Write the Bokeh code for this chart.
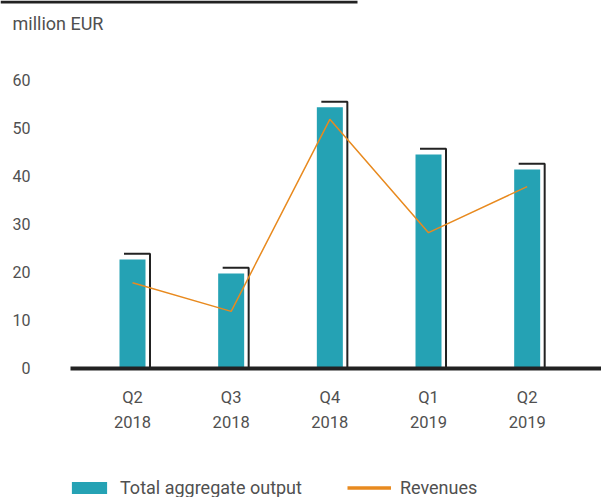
from bokeh.plotting import figure
from bokeh.models import Range1d, Legend, LegendItem, ColumnDataSource
from bokeh.core.properties import value
from bokeh.embed import file_html
from bokeh.resources import INLINE

# ---- data ----
quarter_names = ["Q2", "Q3", "Q4", "Q1", "Q2"]
quarter_years = ["2018", "2018", "2018", "2019", "2019"]
output = [22.6, 19.7, 54.3, 44.5, 41.35]
revenues = [17.75, 11.8, 51.8, 28.2, 37.8]
y_ticks = [0, 10, 20, 30, 40, 50, 60]
unit_label = "million EUR"
series_names = ["Total aggregate output", "Revenues"]

FONT = "Roboto"
TEAL = "#25A2B4"
ORANGE = "#E88A1F"
GREY = "#505050"
DARK = "#222222"

W, H = 601, 497
# layout: value 0 sits at y-pixel 367.5, 4.8 px per unit; categories 98.67 px apart from x-pixel 132
Y0_PX, PX_PER_UNIT = 367.5, 4.8
X0_PX, PX_PER_CAT = 132.0, 98.67


def px2x(px):
    return (px - X0_PX) / PX_PER_CAT


def py2y(py):
    return (Y0_PX - py) / PX_PER_UNIT


xs = list(range(len(quarter_names)))
bar_w = 26 / PX_PER_CAT
off_x = 4.5 / PX_PER_CAT
off_y = 5.7 / PX_PER_UNIT

p = figure(width=W, height=H,
           x_range=Range1d(px2x(0), px2x(W)), y_range=Range1d(py2y(H), py2y(0)),
           output_backend="svg", toolbar_location=None,
           x_axis_location=None, y_axis_location=None,
           min_border=0)
p.min_border_left = p.min_border_right = p.min_border_top = p.min_border_bottom = 0
p.outline_line_color = None
p.xgrid.visible = False
p.ygrid.visible = False
p.background_fill_color = "white"
p.border_fill_color = "white"

src = ColumnDataSource(dict(x=xs, top=output, rev=revenues,
                            qn=quarter_names, qy=quarter_years))

bars = p.vbar(x="x", top="top", width=bar_w, source=src,
              fill_color=TEAL, line_color=None)

# bracket outlines (offset shadow) derived from the data
bx = [[x - bar_w / 2 + off_x, x + bar_w / 2 + off_x, x + bar_w / 2 + off_x] for x in xs]
by = [[v + off_y, v + off_y, 0] for v in output]
p.multi_line(bx, by, line_color=DARK, line_width=2)

rev_line = p.line("x", "rev", source=src, line_color=ORANGE, line_width=1.5)
# legend proxy (thicker swatch, draws nothing in the plot)
leg_line = p.line([float("nan")], [float("nan")], line_color=ORANGE, line_width=3.5)

# baseline (x axis line) and top rule
p.segment(x0=[px2x(70)], y0=[py2y(368)], x1=[px2x(W)], y1=[py2y(368)],
          line_color=DARK, line_width=4)
p.segment(x0=[px2x(0)], y0=[py2y(1.5)], x1=[px2x(357)], y1=[py2y(1.5)],
          line_color=DARK, line_width=3)

# y tick labels
p.text(x=[px2x(30)] * len(y_ticks), y=y_ticks, text=[str(t) for t in y_ticks],
       text_align="right", text_baseline="middle",
       text_font=value(FONT), text_font_size="16px", text_color=GREY)

# x tick labels (two lines)
p.text(x="x", y=py2y(397), text="qn", source=src,
       text_align="center", text_baseline="middle",
       text_font=value(FONT), text_font_size="16.5px", text_color=GREY)
p.text(x="x", y=py2y(421.5), text="qy", source=src,
       text_align="center", text_baseline="middle",
       text_font=value(FONT), text_font_size="16.5px", text_color=GREY)

# unit label
p.text(x=[px2x(12)], y=[py2y(22.5)], text=[unit_label],
       text_align="left", text_baseline="middle",
       text_font=value(FONT), text_font_size="18px", text_color=GREY)

legend = Legend(items=[LegendItem(label=series_names[0], renderers=[bars]),
                       LegendItem(label=series_names[1], renderers=[leg_line])],
                location=(67, -1), orientation="horizontal",
                glyph_width=44, glyph_height=15, label_height=12,
                label_standoff=9, spacing=45, padding=0, margin=0,
                border_line_color=None, background_fill_alpha=0,
                label_text_font=FONT, label_text_font_size="18px",
                label_text_color=GREY)
p.add_layout(legend)

open("out.html", "w").write(file_html(p, INLINE))
